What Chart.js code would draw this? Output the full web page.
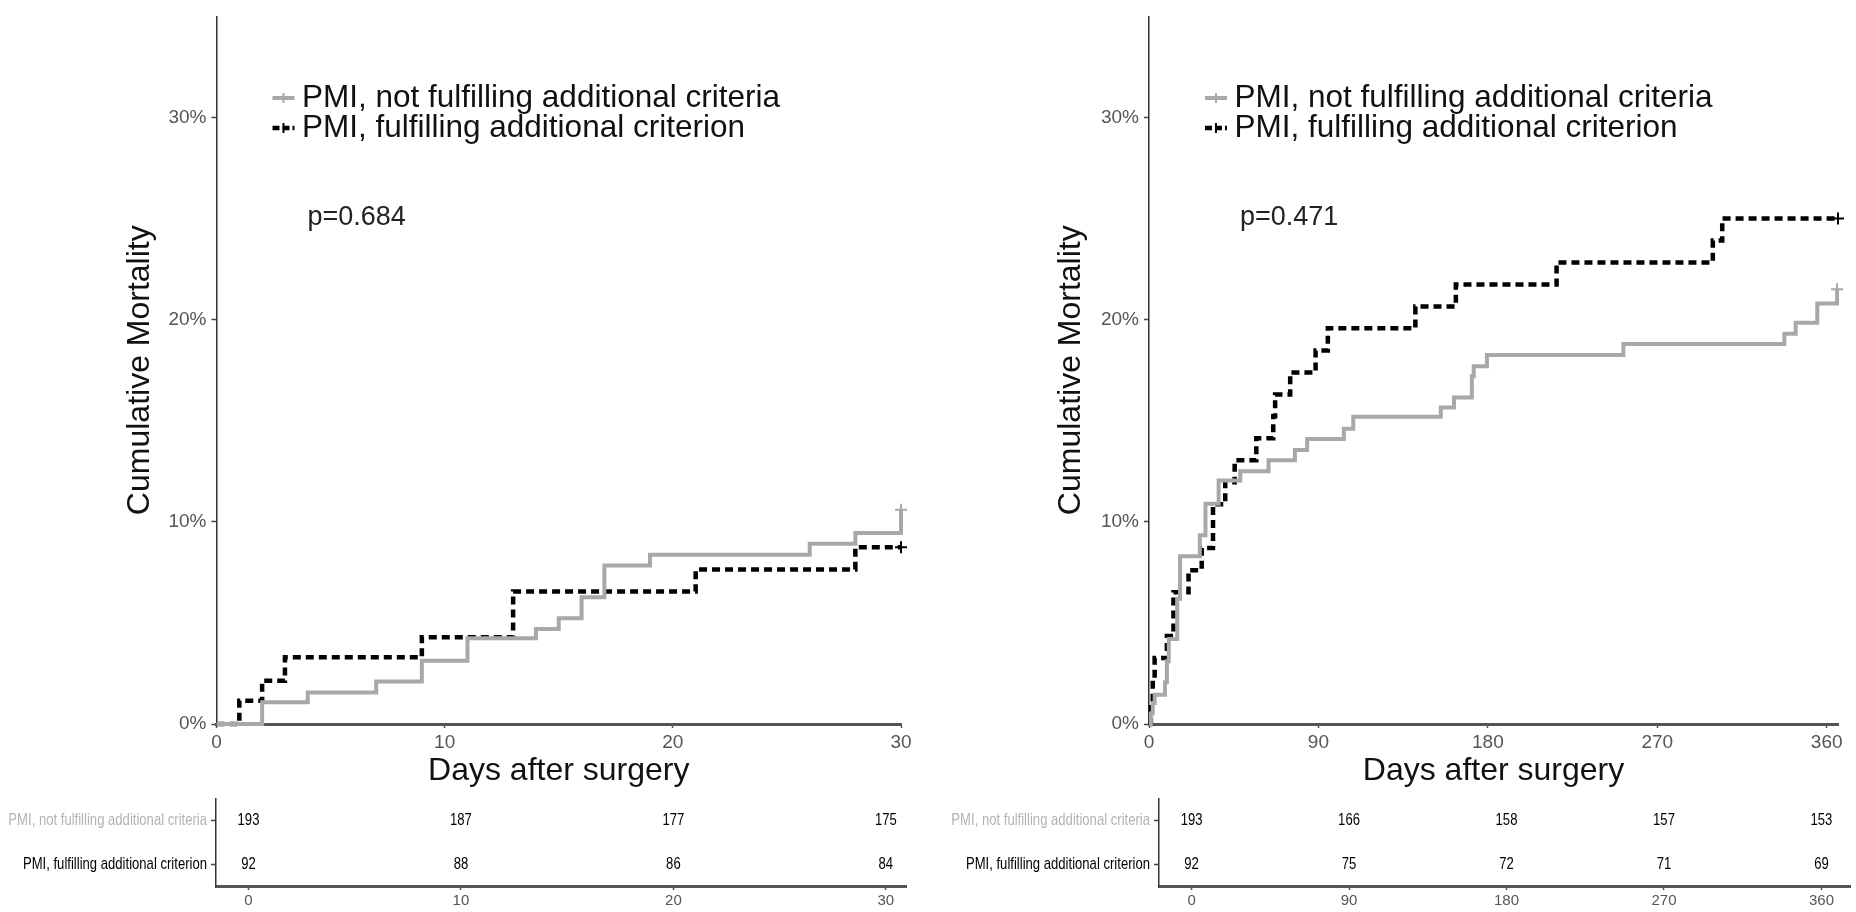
<!DOCTYPE html>
<html>
<head>
<meta charset="utf-8">
<script src="https://cdn.jsdelivr.net/npm/chart.js@4.4.1/dist/chart.umd.min.js"></script>
<style>
  body { margin: 0; background: #fff; }
  #wrap { position: relative; width: 1856px; height: 912px; overflow: hidden; }
  .box { position: absolute; }
</style>
</head>
<body>
<div id="wrap">
  <div class="box" style="left:0;top:0;width:928px;height:790px"><canvas id="km30"></canvas></div>
  <div class="box" style="left:928px;top:0;width:928px;height:790px"><canvas id="km360"></canvas></div>
  <div class="box" style="left:0;top:790px;width:928px;height:122px"><canvas id="risk30"></canvas></div>
  <div class="box" style="left:928px;top:790px;width:928px;height:122px"><canvas id="risk360"></canvas></div>
</div>
<script>
var groups = ['PMI, not fulfilling additional criteria', 'PMI, fulfilling additional criterion'];
var yTicks = [0, 10, 20, 30];

// 30 days: day of each step and cumulative mortality in %
var days30Not = [0, 2, 4, 7, 9, 11, 14, 15, 16, 17, 19, 26, 28, 30];
var mort30Not = [0, 1.07, 1.56, 2.1, 3.13, 4.24, 4.7, 5.23, 6.27, 7.84, 8.37, 8.91, 9.45, 10.6];
var days30Ful = [0, 1, 2, 3, 9, 13, 21, 28, 30];
var mort30Ful = [0, 1.15, 2.14, 3.3, 4.29, 6.55, 7.64, 8.74, 8.74];
var xTicks30 = [0, 10, 20, 30];
var pValue30 = 'p=0.684';

// one year
var days360Not = [0, 1, 2, 3, 8.5, 9.5, 10.5, 15, 16.5, 27, 30, 37, 48.5, 63.5, 77.5, 84,
                  103.5, 108.5, 155, 162, 171.5, 172.5, 179.5, 252, 337.5, 343.5, 355, 365.5];
var mort360Not = [0, 0.52, 1.04, 1.45, 2.07, 3.1, 4.2, 6.2, 8.3, 9.33, 10.9, 12.05, 12.5, 13.04, 13.55, 14.1,
                  14.6, 15.2, 15.65, 16.15, 17.2, 17.7, 18.25, 18.8, 19.3, 19.85, 20.8, 21.5];
var days360Ful = [0, 1, 2, 3, 9.5, 13, 21, 28, 34, 40.5, 45.5, 57, 66, 67, 75, 88.5, 95,
                  141.5, 163, 216.5, 299.5, 304.5, 366];
var mort360Ful = [0, 1.09, 2.17, 3.26, 4.35, 6.52, 7.61, 8.7, 10.87, 11.96, 13.04, 14.13, 15.22, 16.3, 17.39, 18.48, 19.57,
                  20.65, 21.74, 22.83, 23.91, 25.0, 25.0];
var xTicks360 = [0, 90, 180, 270, 360];
var pValue360 = 'p=0.471';

// numbers at risk
var riskTimes30 = [0, 10, 20, 30];
var riskNot30 = [193, 187, 177, 175];
var riskFul30 = [92, 88, 86, 84];
var riskTimes360 = [0, 90, 180, 270, 360];
var riskNot360 = [193, 166, 158, 157, 153];
var riskFul360 = [92, 75, 72, 71, 69];

var GREY = '#a8a8a8';
var SANS = "'Liberation Sans', Arial, sans-serif";
var SQUEEZE = 0.77;   // horizontal squeeze for the risk table text
Chart.defaults.font.family = SANS;

// legend + p value drawn inside the plot area
var kmNotes = {
  id: 'kmNotes',
  afterDraw: function(chart, args, opts) {
    var ctx = chart.ctx, x0 = chart.chartArea.left;
    ctx.save();
    var rows = [{ y: 98, color: GREY, dash: [], w: 4 }, { y: 128, color: '#000', dash: [7, 3], w: 4.5 }];
    rows.forEach(function(r, i) {
      ctx.strokeStyle = r.color;
      ctx.lineWidth = r.w;
      ctx.setLineDash(r.dash);
      ctx.beginPath();
      ctx.moveTo(x0 + 56, r.y);
      ctx.lineTo(x0 + 78, r.y);
      ctx.stroke();
      ctx.setLineDash([]);
      ctx.lineWidth = 2;
      ctx.beginPath();
      ctx.moveTo(x0 + 67, r.y - 5);
      ctx.lineTo(x0 + 67, r.y + 5);
      ctx.stroke();
      ctx.fillStyle = '#111';
      ctx.font = '31.5px ' + SANS;
      ctx.textBaseline = 'middle';
      ctx.fillText(groups[i], x0 + 85.5, r.y);
    });
    ctx.font = '27px ' + SANS;
    ctx.fillStyle = '#222';
    ctx.fillText(opts.pText, x0 + 91, 218);
    ctx.restore();
  }
};

function toPts(d, m) {
  return d.map(function(x, i) { return { x: x, y: m[i] }; });
}
function endCross(ctx) {
  return ctx.dataIndex === ctx.dataset.data.length - 1 ? 6 : 0;
}

function kmChart(id, dNot, mNot, dFul, mFul, xMax, xTicks, pText, yWidth, padRight, titlePad) {
  return new Chart(id, {
    type: 'line',
    data: {
      datasets: [
        { label: groups[0], data: toPts(dNot, mNot), borderColor: GREY, borderWidth: 4,
          stepped: 'before', pointStyle: 'cross', pointRadius: endCross, pointBorderWidth: 2,
          pointBorderColor: GREY, clip: false },
        { label: groups[1], data: toPts(dFul, mFul), borderColor: '#000', borderWidth: 4.5,
          borderDash: [8, 5], stepped: 'before', pointStyle: 'cross', pointRadius: endCross,
          pointBorderWidth: 2, pointBorderColor: '#000', clip: false }
      ]
    },
    options: {
      responsive: true,
      maintainAspectRatio: false,
      animation: false,
      layout: { padding: { top: 9, right: padRight, left: 0, bottom: 0 } },
      plugins: { legend: { display: false }, tooltip: { enabled: false }, kmNotes: { pText: pText } },
      scales: {
        x: {
          type: 'linear', min: 0, max: xMax,
          afterBuildTicks: function(s) { s.ticks = xTicks.map(function(v) { return { value: v }; }); },
          afterFit: function(s) { s.height = 66; },
          grid: { drawOnChartArea: false, tickLength: 4, tickColor: '#555', tickWidth: 1.5 },
          border: { color: '#555', width: 3 },
          ticks: { color: '#555', font: { size: 19 }, padding: 3, maxRotation: 0, autoSkip: false },
          title: { display: true, text: 'Days after surgery', color: '#111', font: { size: 32 },
                   padding: { top: 0, bottom: 0 } }
        },
        y: {
          min: 0, max: 35,
          afterBuildTicks: function(s) { s.ticks = yTicks.map(function(v) { return { value: v }; }); },
          afterFit: function(s) { s.width = yWidth; },
          grid: { drawOnChartArea: false, tickLength: 5, tickColor: '#444', tickWidth: 1.5 },
          border: { color: '#333', width: 1.5 },
          ticks: { color: '#555', font: { size: 19 }, padding: 5, callback: function(v) { return v + '%'; } },
          title: { display: true, text: 'Cumulative Mortality', color: '#111', font: { size: 32 },
                   padding: { top: titlePad, bottom: 0 } }
        }
      }
    },
    plugins: [kmNotes]
  });
}

// squeezed text, anchored at (x, y)
function narrowText(ctx, text, x, y, align) {
  ctx.save();
  ctx.translate(x, y);
  ctx.scale(SQUEEZE, 1);
  ctx.textAlign = align;
  ctx.fillText(text, 0, 0);
  ctx.restore();
}

// group names and counts of the risk table
var riskText = {
  id: 'riskText',
  afterDraw: function(chart) {
    var ctx = chart.ctx, ys = chart.scales.y;
    ctx.save();
    ctx.font = '17px ' + SANS;
    ctx.textBaseline = 'middle';
    groups.forEach(function(g, i) {
      ctx.fillStyle = i === 0 ? '#b3b3b3' : '#000';
      narrowText(ctx, g, ys.right - 9, ys.getPixelForValue(i), 'right');
    });
    ctx.fillStyle = '#000';
    chart.data.datasets.forEach(function(ds, di) {
      chart.getDatasetMeta(di).data.forEach(function(pt, i) {
        narrowText(ctx, String(ds.counts[i]), pt.x, pt.y, 'center');
      });
    });
    ctx.restore();
  }
};

function riskChart(id, times, rowNot, rowFul, xMin, xMax, yWidth, padRight) {
  var rowPts = function(label) {
    return times.map(function(t) { return { x: t, y: label }; });
  };
  return new Chart(id, {
    type: 'scatter',
    data: {
      datasets: [
        { data: rowPts(groups[0]), counts: rowNot, pointRadius: 0 },
        { data: rowPts(groups[1]), counts: rowFul, pointRadius: 0 }
      ]
    },
    options: {
      responsive: true,
      maintainAspectRatio: false,
      animation: false,
      layout: { padding: { top: 9, right: padRight, left: 0, bottom: 0 } },
      plugins: { legend: { display: false }, tooltip: { enabled: false } },
      scales: {
        x: {
          type: 'linear', min: xMin, max: xMax,
          afterBuildTicks: function(s) { s.ticks = times.map(function(v) { return { value: v }; }); },
          afterFit: function(s) { s.height = 26; },
          grid: { drawOnChartArea: false, tickLength: 4, tickColor: '#555', tickWidth: 1.5 },
          border: { color: '#555', width: 3 },
          ticks: { color: '#555', font: { size: 15 }, padding: 2, maxRotation: 0, autoSkip: false }
        },
        y: {
          type: 'category', labels: groups, offset: true,
          afterFit: function(s) { s.width = yWidth; },
          grid: { drawOnChartArea: false, tickLength: 5, tickColor: '#444', tickWidth: 1.5 },
          border: { color: '#333', width: 1.5 },
          ticks: { display: false }
        }
      }
    },
    plugins: [riskText]
  });
}

kmChart('km30', days30Not, mort30Not, days30Ful, mort30Ful, 30, xTicks30, pValue30, 216.5, 27, 121);
kmChart('km360', days360Not, mort360Not, days360Ful, mort360Ful, 366, xTicks360, pValue360, 221, 18, 124);
riskChart('risk30', riskTimes30, riskNot30, riskFul30, -1.53, 30.95, 216, 22);
riskChart('risk360', riskTimes360, riskNot360, riskFul360, -18.6, 376.3, 231, 6);
</script>
</body>
</html>
